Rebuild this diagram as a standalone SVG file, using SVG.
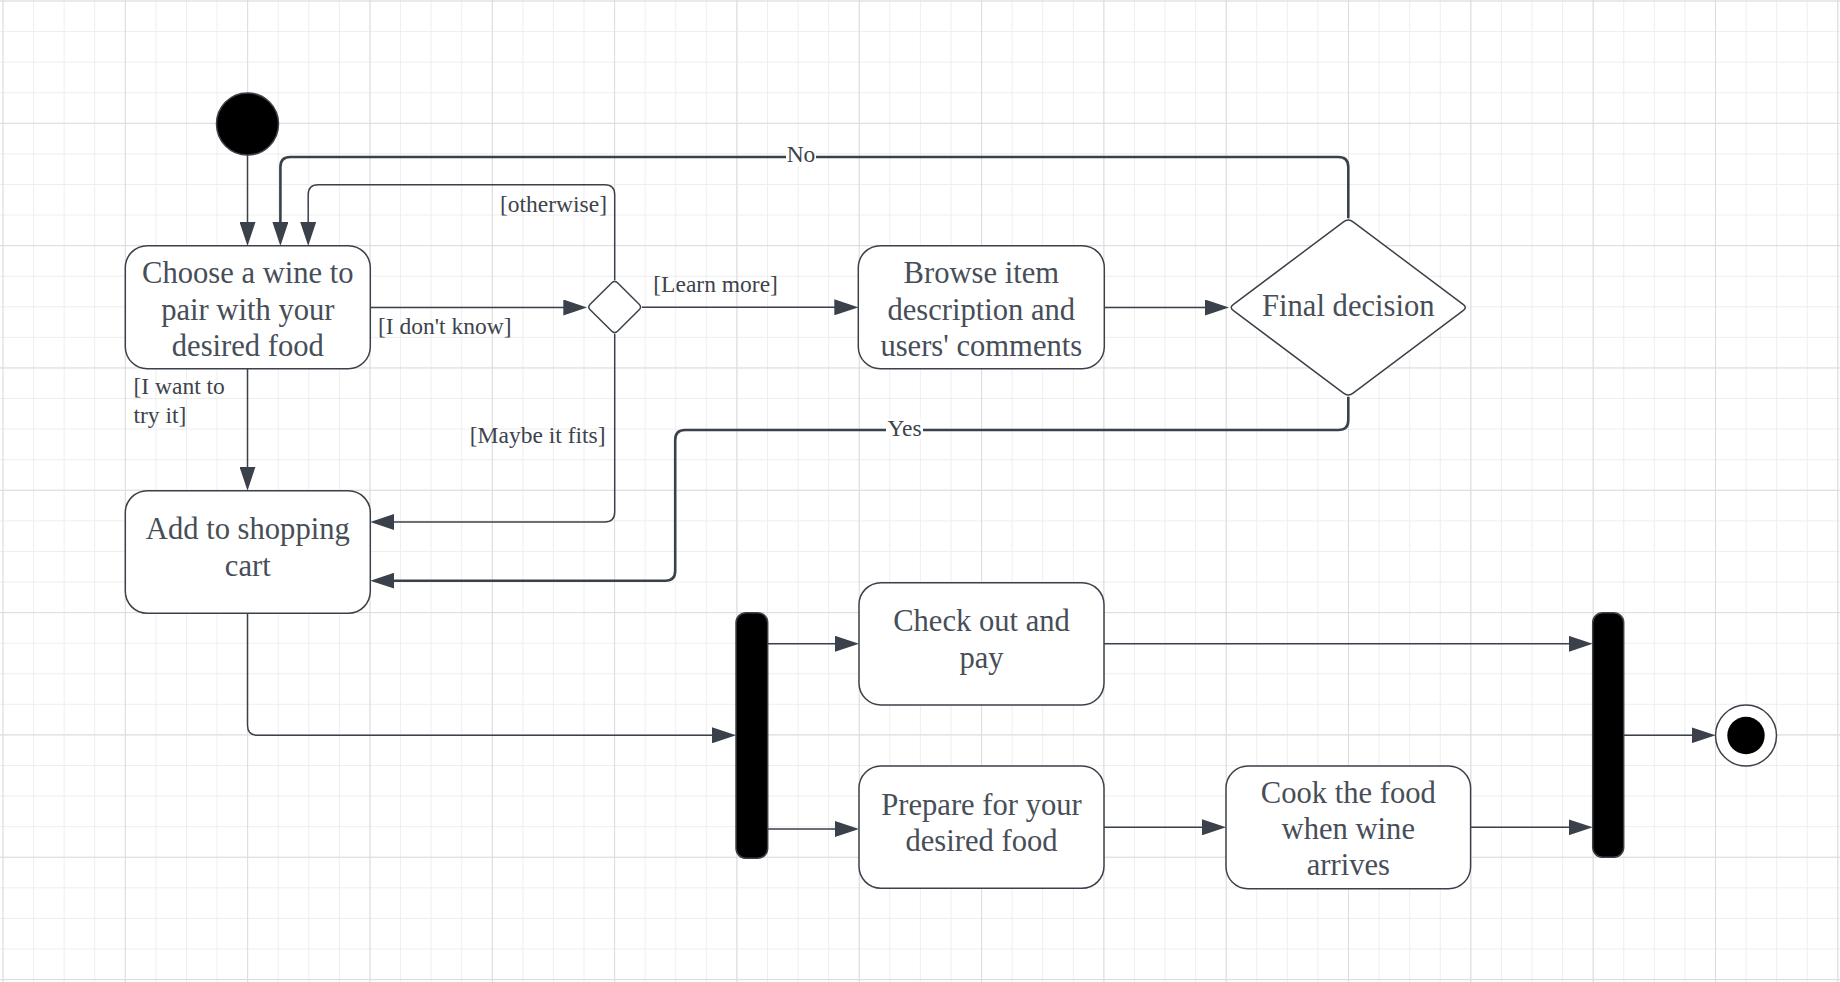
<svg xmlns="http://www.w3.org/2000/svg" width="1840" height="982" viewBox="0 0 1840 982">
<defs>
<pattern id="gMinor" x="2.5" y="0.5" width="30.58" height="30.58" patternUnits="userSpaceOnUse"><path d="M0 0.5H30.58M0.5 0V30.58" stroke="#eeeeee" stroke-width="1" fill="none"/></pattern>
<pattern id="gMajor" x="2.5" y="0.5" width="122.32" height="122.32" patternUnits="userSpaceOnUse"><path d="M0 0.5H122.32M0.5 0V122.32" stroke="#dcdcdc" stroke-width="1" fill="none"/></pattern>
<marker id="arr" markerUnits="userSpaceOnUse" markerWidth="24" markerHeight="16" refX="14" refY="8" orient="auto" viewBox="0 0 24 16"><path d="M0 0L24 8L0 16Z" fill="#3a414a"/></marker>
</defs>
<style>
.box{fill:#fff;stroke:#3a414a;stroke-width:1.5}
.t{font-family:"Liberation Serif","Times New Roman",serif;font-size:30.6px;fill:#474e57;text-anchor:middle}
.lbl{font-family:"Liberation Serif","Times New Roman",serif;font-size:23.5px;fill:#3d434c}
.c{fill:none;stroke:#3a414a;stroke-width:1.5;marker-end:url(#arr)}
.thick{stroke-width:2.6}
.bar{fill:#000;stroke:#3a414a;stroke-width:1.5}
.bg{fill:#fff}
</style>
<rect width="1840" height="982" fill="#fff"/>
<rect width="1840" height="982" fill="url(#gMinor)"/>
<rect width="1840" height="982" fill="url(#gMajor)"/>

<g id="connectors">
<path class="c" d="M247.5 155V236"/>
<path class="c thick" d="M1348.3 218.3V167Q1348.3 157 1338.3 157H290.4Q280.4 157 280.4 167V236"/>
<path class="c" d="M614.7 280V194.7Q614.7 184.7 604.7 184.7H318.2Q308.2 184.7 308.2 194.7V236"/>
<path class="c" d="M370.3 307.5H577.3"/>
<path class="c" d="M642 307.3H848.3"/>
<path class="c" d="M1104.3 307.5H1219"/>
<path class="c" d="M614.7 334V512Q614.7 522 604.7 522H380.3"/>
<path class="c" d="M247.5 368.7V480.7"/>
<path class="c thick" d="M1348.3 396.7V420Q1348.3 430 1338.3 430H685.2Q675.2 430 675.2 440V570.7Q675.2 580.7 665.2 580.7H380.3"/>
<path class="c" d="M247.5 613.3V725.3Q247.5 735.3 257.5 735.3H726"/>
<path class="c" d="M767.7 643.8H849"/>
<path class="c" d="M767.7 829H849"/>
<path class="c" d="M1104 643.8H1582.7"/>
<path class="c" d="M1104 827.3H1216"/>
<path class="c" d="M1470.6 827.3H1582.7"/>
<path class="c" d="M1623.7 735.3H1705.5"/>
<rect class="bg" x="786" y="146" width="30" height="20"/>
<text class="lbl" x="801" y="162.3" text-anchor="middle">No</text>
<rect class="bg" x="886" y="419" width="37" height="20"/>
<text class="lbl" x="904.5" y="435.6" text-anchor="middle">Yes</text>
<text class="lbl" x="607" y="212" text-anchor="end">[otherwise]</text>
<text class="lbl" x="378" y="334">[I don't know]</text>
<text class="lbl" x="653.3" y="291.5">[Learn more]</text>
<text class="lbl" x="605.5" y="443" text-anchor="end">[Maybe it fits]</text>
<text class="lbl" x="133.5" y="394">[I want to</text>
<text class="lbl" x="133.5" y="422.5">try it]</text>
</g>

<g id="start">
<circle cx="247.5" cy="124" r="31" fill="#000" stroke="#3a414a" stroke-width="1.5"/>
</g>

<g id="choose">
<rect class="box" x="125.3" y="245.7" width="245" height="123" rx="22"/>
<text class="t" x="247.8" y="283">Choose a wine to</text>
<text class="t" x="247.8" y="320">pair with your</text>
<text class="t" x="247.8" y="356">desired food</text>
</g>

<g id="decision1">
<path class="box" d="M611.87 282.83Q614.7 280 617.53 282.83L639.17 304.17Q642 307 639.17 309.83L617.53 331.17Q614.7 334 611.87 331.17L590.13 309.83Q587.3 307 590.13 304.17Z"/>
</g>

<g id="browse">
<rect class="box" x="858.3" y="245.7" width="246" height="123" rx="22"/>
<text class="t" x="981.3" y="283">Browse item</text>
<text class="t" x="981.3" y="320">description and</text>
<text class="t" x="981.3" y="356">users' comments</text>
</g>

<g id="final-decision">
<path class="box" d="M1343.5 221.9Q1348.3 218.3 1353.1 221.9L1463.1 304.3Q1467.5 307.5 1463.1 310.7L1353.1 393.1Q1348.3 396.7 1343.5 393.1L1233.5 310.7Q1229 307.5 1233.5 304.3Z"/>
<text class="t" x="1348.3" y="316">Final decision</text>
</g>

<g id="add-cart">
<rect class="box" x="125.3" y="490.7" width="245" height="122.6" rx="22"/>
<text class="t" x="247.8" y="539.3">Add to shopping</text>
<text class="t" x="247.8" y="576">cart</text>
</g>

<g id="fork">
<rect class="bar" x="736" y="612.7" width="31.7" height="245.6" rx="10"/>
</g>

<g id="checkout">
<rect class="box" x="859" y="582.7" width="245" height="122.3" rx="22"/>
<text class="t" x="981.5" y="631">Check out and</text>
<text class="t" x="981.5" y="668">pay</text>
</g>

<g id="prepare">
<rect class="box" x="859" y="766" width="245" height="122.3" rx="22"/>
<text class="t" x="981.5" y="815">Prepare for your</text>
<text class="t" x="981.5" y="851">desired food</text>
</g>

<g id="cook">
<rect class="box" x="1226" y="766" width="244.6" height="122.7" rx="22"/>
<text class="t" x="1348.3" y="803">Cook the food</text>
<text class="t" x="1348.3" y="839.3">when wine</text>
<text class="t" x="1348.3" y="875">arrives</text>
</g>

<g id="join">
<rect class="bar" x="1592.7" y="612.7" width="31" height="244.6" rx="10"/>
</g>

<g id="end">
<circle cx="1746" cy="735.5" r="30.5" fill="#fff" stroke="#3a414a" stroke-width="1.5"/>
<circle cx="1746" cy="735.5" r="18.7" fill="#000"/>
</g>
</svg>
